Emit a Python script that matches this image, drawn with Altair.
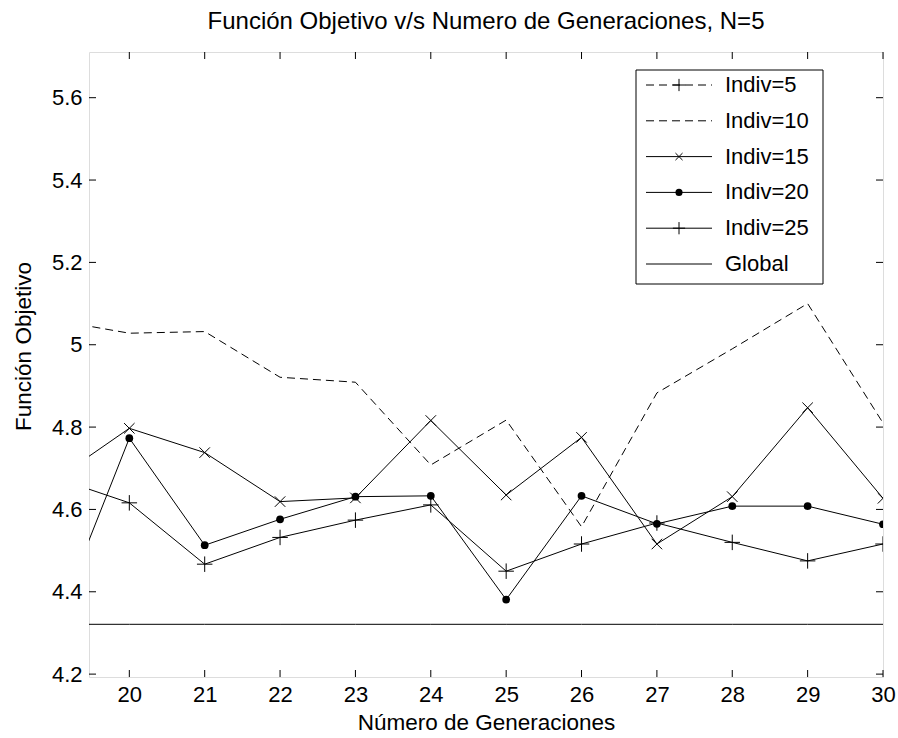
import altair as alt
import pandas as pd

# ---------------- data ----------------
generaciones = [19, 20, 21, 22, 23, 24, 25, 26, 27, 28, 29, 30]
indiv10 = [5.06, 5.028, 5.032, 4.921, 4.909, 4.708, 4.817, 4.558, 4.883, 4.99, 5.10, 4.81]
indiv15 = [4.67, 4.797, 4.738, 4.619, 4.628, 4.816, 4.635, 4.775, 4.516, 4.631, 4.847, 4.627]
indiv20 = [4.31, 4.773, 4.513, 4.576, 4.631, 4.633, 4.381, 4.633, 4.565, 4.608, 4.608, 4.564]
indiv25 = [4.678, 4.616, 4.467, 4.532, 4.574, 4.611, 4.450, 4.516, 4.567, 4.520, 4.475, 4.516]
global_opt = 4.321

legend_labels = ["Indiv=5", "Indiv=10", "Indiv=15", "Indiv=20", "Indiv=25", "Global"]
x_ticks = [20, 21, 22, 23, 24, 25, 26, 27, 28, 29, 30]
y_ticks = [4.2, 4.4, 4.6, 4.8, 5.0, 5.2, 5.4, 5.6]

X_DOMAIN = [19.465, 30]
Y_DOMAIN = [4.193, 5.711]
W, H = 794, 625
FONT = "Liberation Sans"
FS = 22
AFS = 22.5
TFS = 24

PLUS = "M-1,0L1,0M0,-1L0,1"
XMARK = "M-1,-1L1,1M-1,1L1,-1"

df = pd.DataFrame({
    "gen": generaciones,
    "i10": indiv10,
    "i15": indiv15,
    "i20": indiv20,
    "i25": indiv25,
    "glob": [global_opt] * len(generaciones),
})

XAXIS = alt.Axis(values=x_ticks, title="Número de Generaciones", ticks=False,
                 domain=False, grid=False, labelPadding=7,
                 titleX=397, titleY=45, titleBaseline="middle", titleAlign="center",
                 labelFontSize=FS, titleFontSize=AFS, labelFont=FONT, titleFont=FONT,
                 labelColor="black", titleColor="black", titleFontWeight="normal",
                 labelFlush=False)
YAXIS = alt.Axis(values=y_ticks, title="Función Objetivo", ticks=False, domain=False,
                 grid=False, labelPadding=7, format="~g",
                 titleX=-66, titleY=294, titleBaseline="middle", titleAlign="center",
                 titleAngle=270,
                 labelFontSize=FS, titleFontSize=AFS, labelFont=FONT, titleFont=FONT,
                 labelColor="black", titleColor="black", titleFontWeight="normal",
                 labelFlush=False)
xsc = alt.Scale(domain=X_DOMAIN, nice=False, zero=False)
ysc = alt.Scale(domain=Y_DOMAIN, nice=False, zero=False)


def xenc(field="gen"):
    return alt.X(f"{field}:Q", scale=xsc, axis=XAXIS)


def yenc(field):
    return alt.Y(f"{field}:Q", scale=ysc, axis=YAXIS)


base = alt.Chart(df)

layers = []
# Global line
layers.append(base.mark_line(color="black", strokeWidth=1, clip=True).encode(x=xenc(), y=yenc("glob")))
# Indiv=10 dashed
layers.append(base.mark_line(color="black", strokeWidth=1, strokeDash=[8, 5], clip=True).encode(x=xenc(), y=yenc("i10")))
# Indiv=15 with x marks
layers.append(base.mark_line(color="black", strokeWidth=1, clip=True).encode(x=xenc(), y=yenc("i15")))
layers.append(base.mark_point(shape=XMARK, size=110, filled=False, stroke="black", strokeWidth=1,
                              opacity=1, clip=True).encode(x=xenc(), y=yenc("i15")))
# Indiv=20 with dots
layers.append(base.mark_line(color="black", strokeWidth=1, clip=True).encode(x=xenc(), y=yenc("i20")))
layers.append(base.mark_circle(size=60, color="black", opacity=1, clip=True).encode(x=xenc(), y=yenc("i20")))
# Indiv=25 with plus marks
layers.append(base.mark_line(color="black", strokeWidth=1, clip=True).encode(x=xenc(), y=yenc("i25")))
layers.append(base.mark_point(shape=PLUS, size=240, filled=False, stroke="black", strokeWidth=1,
                              opacity=1, clip=True).encode(x=xenc(), y=yenc("i25")))

# inward ticks (MATLAB style) on all four sides
ydf = pd.DataFrame({"v": y_ticks})
xdf = pd.DataFrame({"gen": x_ticks})
TL = 7
layers.append(alt.Chart(ydf).mark_rule(color="black", strokeWidth=1).encode(
    y=yenc("v"), x=alt.value(0), x2=alt.value(TL)))
layers.append(alt.Chart(ydf).mark_rule(color="black", strokeWidth=1).encode(
    y=yenc("v"), x=alt.value(W - TL), x2=alt.value(W)))
layers.append(alt.Chart(xdf).mark_rule(color="black", strokeWidth=1).encode(
    x=xenc(), y=alt.value(H - TL), y2=alt.value(H)))
layers.append(alt.Chart(xdf).mark_rule(color="black", strokeWidth=1).encode(
    x=xenc(), y=alt.value(0), y2=alt.value(TL)))

# ---------------- legend (inside plot, top right) ----------------
LX0, LX1 = 547, 734
LY0, LY1 = 18, 232
layers.append(alt.Chart(pd.DataFrame({"a": [0]})).mark_rect(
    fill="white", stroke="black", strokeWidth=1).encode(
    x=alt.value(LX0), x2=alt.value(LX1), y=alt.value(LY0), y2=alt.value(LY1)))

row_y0 = 33
row_step = 35.8
sx0, sx1, smid = 557, 623, 590
tx = 636
styles = [
    ("dash", "plus"),
    ("dash", None),
    ("solid", "x"),
    ("solid", "dot"),
    ("solid", "plus"),
    ("solid", None),
]
one = pd.DataFrame({"a": [0]})
for i, (lab, (ls, mk)) in enumerate(zip(legend_labels, styles)):
    yy = row_y0 + i * row_step
    kw = dict(color="black", strokeWidth=1)
    if ls == "dash":
        kw["strokeDash"] = [8, 5]
    layers.append(alt.Chart(one).mark_rule(**kw).encode(
        x=alt.value(sx0), x2=alt.value(sx1), y=alt.value(yy)))
    if mk == "plus":
        layers.append(alt.Chart(one).mark_point(shape=PLUS, size=150, filled=False, stroke="black",
                                                strokeWidth=1, opacity=1).encode(
            x=alt.value(smid), y=alt.value(yy)))
    elif mk == "x":
        layers.append(alt.Chart(one).mark_point(shape=XMARK, size=50, filled=False, stroke="black",
                                                strokeWidth=1, opacity=1).encode(
            x=alt.value(smid), y=alt.value(yy)))
    elif mk == "dot":
        layers.append(alt.Chart(one).mark_circle(size=50, color="black", opacity=1).encode(
            x=alt.value(smid), y=alt.value(yy)))
    layers.append(alt.Chart(pd.DataFrame({"t": [lab]})).mark_text(
        align="left", baseline="middle", font=FONT, fontSize=FS, color="black").encode(
        x=alt.value(tx), y=alt.value(yy), text="t:N"))

chart = alt.layer(*layers).properties(
    width=W, height=H,
    title=alt.TitleParams("Función Objetivo v/s Numero de Generaciones, N=5", font=FONT,
                          fontSize=TFS, fontWeight="normal", color="black", offset=18,
                          anchor="middle"),
    autosize=alt.AutoSizeParams(type="none"),
    padding={"left": 89, "top": 52, "right": 15, "bottom": 61},
).configure_view(stroke="black", strokeWidth=1).configure(background="white")

chart.save("out.html", embed_options={"renderer": "svg", "actions": False})
